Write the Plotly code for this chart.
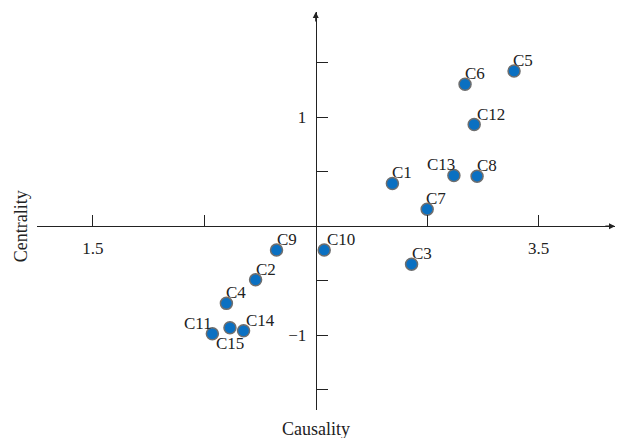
import plotly.graph_objects as go

labels = ["C1", "C2", "C3", "C4", "C5", "C6", "C7", "C8", "C9", "C10",
          "C11", "C12", "C13", "C14", "C15"]
causality = [2.844, 2.230, 2.930, 2.099, 3.390, 3.170, 3.000, 3.224, 2.324, 2.538,
             2.036, 3.211, 3.120, 2.176, 2.115]
centrality = [0.392, -0.493, -0.349, -0.709, 1.425, 1.303, 0.156, 0.459, -0.220, -0.220,
              -0.988, 0.933, 0.465, -0.960, -0.933]

x_tickvals = [1.5, 2.0, 3.0, 3.5]
x_ticktext = ["1.5", "", "", "3.5"]
y_tickvals = [-1.5, -1.0, -0.5, 0.5, 1.0, 1.5]
y_ticktext = ["", "\u22121", "", "", "1", ""]

x_range = [1.249, 3.843]
y_range = [-1.688, 1.966]
x_origin = 2.5
y_origin = 0.0

# label placement (styling): anchor and pixel offsets relative to the marker
lab_xanchor = ["left"] * 15
lab_yanchor = ["bottom"] * 15
lab_dx = [-1, -1, -1, -1, -2, -1, -2, -1, -1, 2, 1, 2, 2, 1, 0]
lab_dy = [0] * 15
lab_xanchor[10] = "right"   # C11
lab_xanchor[12] = "right"   # C13
lab_xanchor[14] = "center"  # C15
lab_yanchor[14] = "top"
lab_dy[14] = -5

FONT = "Liberation Serif, Times New Roman, serif"
FS = 17

fig = go.Figure()
fig.add_trace(go.Scatter(
    x=causality, y=centrality, mode="markers",
    marker=dict(size=12, color="#0a70c2", line=dict(color="#6e6e6e", width=1.5)),
    cliponaxis=False, showlegend=False, hovertext=labels,
))

for i, lab in enumerate(labels):
    fig.add_annotation(x=causality[i], y=centrality[i], xref="x", yref="y",
                       text=lab, showarrow=False, borderpad=0,
                       xanchor=lab_xanchor[i], yanchor=lab_yanchor[i],
                       xshift=lab_dx[i], yshift=lab_dy[i],
                       font=dict(family=FONT, size=FS, color="#222"))

xpos = (x_origin - x_range[0]) / (x_range[1] - x_range[0])
ypos = (y_origin - y_range[0]) / (y_range[1] - y_range[0])

fig.update_layout(
    width=615, height=430,
    margin=dict(l=28.5, r=8, t=3.7, b=28, autoexpand=False),
    plot_bgcolor="white", paper_bgcolor="white",
    font=dict(family=FONT, size=FS, color="#222"),
    xaxis=dict(range=x_range, anchor="free", position=ypos, side="bottom",
               automargin=False,
               showgrid=False, zeroline=False, showline=True, linecolor="#222",
               linewidth=1.2, ticks="inside", ticklen=11, tickwidth=1.2,
               tickcolor="#222", tickvals=x_tickvals, ticktext=x_ticktext,
               ticklabelstandoff=6),
    yaxis=dict(range=y_range, anchor="free", position=xpos, side="left",
               automargin=False,
               showgrid=False, zeroline=False, showline=True, linecolor="#222",
               linewidth=1.2, ticks="inside", ticklen=11, tickwidth=1.2,
               tickcolor="#222", tickvals=y_tickvals, ticktext=y_ticktext,
               ticklabelstandoff=6),
)

# axis arrowheads
fig.add_annotation(x=x_range[1], y=y_origin, ax=x_range[1] - 0.05, ay=y_origin,
                   xref="x", yref="y", axref="x", ayref="y", text="",
                   showarrow=True, arrowhead=2, arrowsize=1, arrowwidth=1.2,
                   arrowcolor="#222")
fig.add_annotation(x=x_origin, y=y_range[1], ax=x_origin, ay=y_range[1] - 0.1,
                   xref="x", yref="y", axref="x", ayref="y", text="",
                   showarrow=True, arrowhead=2, arrowsize=1, arrowwidth=1.2,
                   arrowcolor="#222")

# axis titles
fig.add_annotation(x=x_origin, y=0, xref="x", yref="paper", yshift=-19,
                   text="Causality", showarrow=False,
                   font=dict(family=FONT, size=18, color="#222"), yanchor="middle")
fig.add_annotation(x=0, y=y_origin, xref="paper", yref="y", xshift=-16,
                   text="Centrality", textangle=-90, showarrow=False,
                   font=dict(family=FONT, size=18, color="#222"), xanchor="center")

fig.write_html("out.html")
